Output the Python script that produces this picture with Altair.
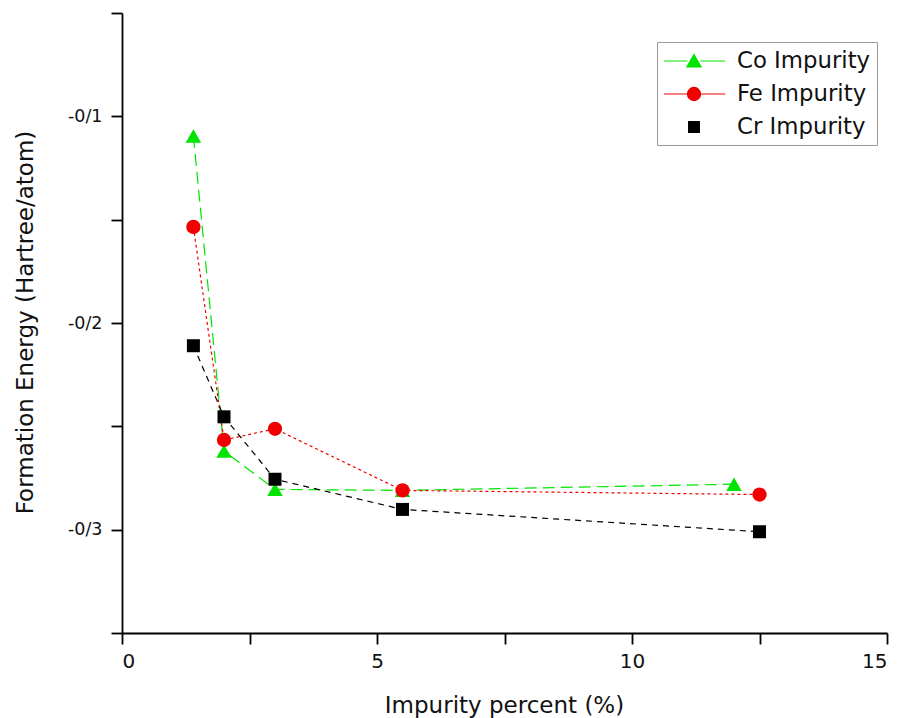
import altair as alt
import pandas as pd

# ---- data ----
series_names = ["Co Impurity", "Fe Impurity", "Cr Impurity"]
co_x = [1.4, 2.0, 3.0, 5.5, 12.0]
co_y = [-0.1095, -0.262, -0.2805, -0.281, -0.278]
fe_x = [1.4, 2.0, 3.0, 5.5, 12.5]
fe_y = [-0.1535, -0.2566, -0.2512, -0.281, -0.283]
cr_x = [1.4, 2.0, 3.0, 5.5, 12.5]
cr_y = [-0.211, -0.2454, -0.2756, -0.2902, -0.301]

x_ticks = [0, 2.5, 5, 7.5, 10, 12.5, 15]
y_ticks = [-0.35, -0.3, -0.25, -0.2, -0.15, -0.1, -0.05]

# ---- styles ----
colors = ["#00e400", "#f00000", "#000000"]
shapes = ["triangle-up", "circle", "square"]
marker_sizes = [240, 169, 144]
dashes = [[12, 6], [3, 3], [6, 5]]
legend_paths = [
    "M-1,0H0.95M2.05,0H4.1M1.5,-0.55L2.1,0.5L0.9,0.5Z",
    "M-1,0H0.95M2.05,0H4.1M0.95,0A0.55,0.55,0,1,1,2.05,0A0.55,0.55,0,1,1,0.95,0Z",
    "M1.05,-0.45H1.95V0.45H1.05Z",
]

rows = []
for name, xs, ys in zip(series_names, [co_x, fe_x, cr_x], [co_y, fe_y, cr_y]):
    for xv, yv in zip(xs, ys):
        rows.append({"series": name, "x": xv, "y": yv})
df = pd.DataFrame(rows)

FONT = "DejaVu Sans"

x_enc = alt.X(
    "x:Q",
    scale=alt.Scale(domain=[0, 15], nice=False, zero=False),
    axis=alt.Axis(
        values=x_ticks,
        labelExpr="datum.value % 5 == 0 ? format(datum.value, 'd') : ''",
        title="Impurity percent (%)",
        titleFontSize=23,
        titleX=382,
        titleY=79,
        titleAlign="center",
        titleBaseline="alphabetic",
        labelFontSize=20,
        labelPadding=7,
        tickSize=11,
    ),
)
y_enc = alt.Y(
    "y:Q",
    scale=alt.Scale(domain=[-0.35, -0.05], nice=False, zero=False),
    axis=alt.Axis(
        values=y_ticks,
        labelExpr="(abs(datum.value*10 - round(datum.value*10)) < 0.001 && datum.value > -0.34 && datum.value < -0.06) ? '-0/' + round(-datum.value*10) : ''",
        title="Formation Energy (Hartree/atom)",
        titleFontSize=23,
        titleAngle=-90,
        titleX=-90,
        titleY=309,
        titleAlign="center",
        titleBaseline="alphabetic",
        labelFontSize=17.5,
        labelPadding=9,
        tickSize=11,
    ),
)

sort_order = series_names

lines = alt.Chart(df).mark_line(strokeWidth=1.2).encode(
    x=x_enc,
    y=y_enc,
    color=alt.Color("series:N", sort=sort_order,
                    scale=alt.Scale(domain=series_names, range=colors), legend=None),
    strokeDash=alt.StrokeDash("series:N", sort=sort_order,
                              scale=alt.Scale(domain=series_names, range=dashes), legend=None),
    detail="series:N",
)

points = alt.Chart(df).mark_point(filled=True, opacity=1).encode(
    x=x_enc,
    y=y_enc,
    color=alt.Color("series:N", sort=sort_order,
                    scale=alt.Scale(domain=series_names, range=colors), legend=None),
    shape=alt.Shape("series:N", sort=sort_order,
                    scale=alt.Scale(domain=series_names, range=shapes), legend=None),
    size=alt.Size("series:N", sort=sort_order,
                  scale=alt.Scale(domain=series_names, range=marker_sizes), legend=None),
)

legend_props = dict(
    title=None,
    orient="none",
    legendX=535,
    legendY=29,
    padding=6,
    strokeColor="#999999",
    symbolSize=576,
    symbolStrokeWidth=1.1,
    labelFont=FONT,
    labelFontSize=22.8,
    labelColor="#111111",
    labelOffset=48,
    labelLimit=400,
    rowPadding=8,
)

legend_layer = alt.Chart(df).transform_filter("false").mark_point(filled=True, opacity=1).encode(
    x=x_enc,
    y=y_enc,
    fill=alt.Fill("series:N", sort=sort_order,
                  scale=alt.Scale(domain=series_names, range=colors),
                  legend=alt.Legend(**legend_props)),
    stroke=alt.Stroke("series:N", sort=sort_order,
                      scale=alt.Scale(domain=series_names, range=colors),
                      legend=alt.Legend(**legend_props)),
    shape=alt.Shape("series:N", sort=sort_order,
                    scale=alt.Scale(domain=series_names, range=legend_paths),
                    legend=alt.Legend(**legend_props)),
)

chart = (
    alt.layer(lines, points, legend_layer)
    .resolve_scale(color="independent", shape="independent", fill="independent",
                   stroke="independent", strokeDash="independent", size="independent")
    .properties(
        width=765,
        height=620,
        autosize=alt.AutoSizeParams(type="none"),
        padding={"left": 122, "top": 13, "right": 13, "bottom": 85},
        background="white",
    )
    .configure_view(stroke=None)
    .configure_axis(
        grid=False,
        domainColor="#000000",
        domainWidth=1.8,
        tickColor="#000000",
        tickWidth=1.8,
        labelFont=FONT,
        titleFont=FONT,
        labelColor="#111111",
        titleColor="#111111",
        titleFontWeight="normal",
    )
)

chart.save("out.html", embed_options={"renderer": "svg", "actions": False})
